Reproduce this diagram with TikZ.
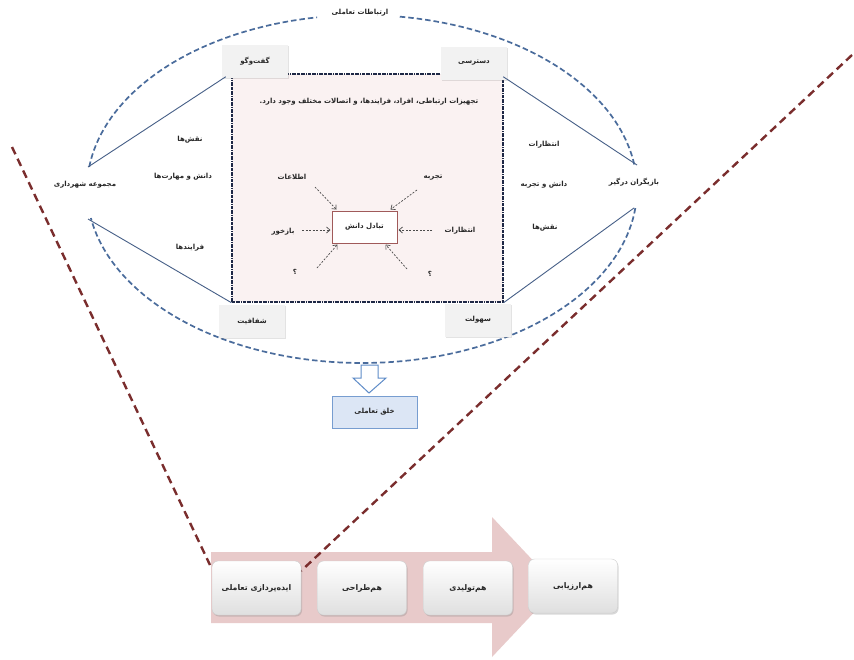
\documentclass[tikz,border=0pt]{standalone}
\usepackage{fontspec}
\newfontfamily\arabicfont[Script=Arabic]{DejaVu Sans}
\TeXXeTstate=1
\usetikzlibrary{arrows.meta,shadows,calc}
\definecolor{ellblue}{RGB}{74,108,156}
\definecolor{lineblue}{RGB}{70,95,135}
\definecolor{navyb}{RGB}{30,40,70}
\definecolor{innerfill}{RGB}{250,242,242}
\definecolor{boxgrey}{RGB}{242,242,242}
\definecolor{brownred}{RGB}{122,45,45}
\definecolor{arrowpink}{RGB}{232,202,202}
\definecolor{centerborder}{RGB}{160,90,90}
\definecolor{hollowblue}{RGB}{95,140,200}
\definecolor{createfill}{RGB}{220,230,245}
\newcommand{\prs}[1]{\beginR #1\endR}
\begin{document}
\begin{tikzpicture}[x=1pt,y=-1pt,
  txt/.style={font=\arabicfont\bfseries\fontsize{7}{9}\selectfont, text=black!85, inner sep=1pt},
  cornerbox/.style={txt, fill=boxgrey, minimum width=66pt, minimum height=33pt,
     drop shadow={opacity=0.22,shadow xshift=1pt,shadow yshift=-1pt}},
  ellline/.style={ellblue, line width=1.7pt, dash pattern=on 5.5pt off 3pt},
  solidline/.style={lineblue, line width=0.9pt},
  dasharrow/.style={gray!60!black, line width=0.7pt, dash pattern=on 2pt off 1.5pt, -{Straight Barb[length=3.5pt,width=6pt]}},
  brownline/.style={brownred, line width=2.4pt, dash pattern=on 8pt off 5pt},
  stagebox/.style={txt, font=\arabicfont\bfseries\fontsize{7.8}{10}\selectfont, rounded corners=6pt, top color=white, bottom color=gray!25,
     draw=gray!40, minimum width=89pt, minimum height=54pt,
     drop shadow={opacity=0.3,shadow xshift=1pt,shadow yshift=-1.5pt}}
]
\useasboundingbox (0,0) rectangle (854,659);
\fill[white] (0,0) rectangle (854,659);

% big process arrow
\fill[arrowpink] (211,552) -- (492,552) -- (492,517) -- (558,587) -- (492,657) -- (492,623) -- (211,623) -- cycle;

% ellipse in arcs
\draw[ellline] plot[domain=6.3:170.4, samples=90] ({362+275*cos(\x)},{189+174*sin(\x)});
\draw[ellline] plot[domain=187.3:260.6, samples=40] ({362+275*cos(\x)},{189+174*sin(\x)});
\draw[ellline] plot[domain=277.9:352.1, samples=40] ({362+275*cos(\x)},{189+174*sin(\x)});

\coordinate (L1) at (88,167);
\coordinate (L2) at (88,219);
\coordinate (R1) at (637,165);
\coordinate (R2) at (634,208);

% inner dotted rectangle
\node[draw=navyb, line width=1.3pt, dash pattern=on 3pt off 0.8pt on 0.8pt off 0.8pt, fill=innerfill,
      minimum width=271pt, minimum height=228pt, inner sep=0pt] (inner) at (367.5,188) {};

% corner boxes
\node[cornerbox] (gof) at (255,61) {\prs{گفت‌وگو}};
\node[cornerbox] (dast) at (474,63) {\prs{دسترسی}};
\node[cornerbox] (shaf) at (252,321) {\prs{شفافیت}};
\node[cornerbox] (sohu) at (478,320) {\prs{سهولت}};

% solid lines
\draw[solidline] (L1) -- ([shift={(4,-1)}]gof.south west);
\draw[solidline] (L2) -- (inner.south west);
\draw[solidline] (R1) -- ([shift={(-4,-3)}]dast.south east);
\draw[solidline] (R2) -- (inner.south east);

% labels round the ellipse
\node[txt] (top) at (360,13) {\prs{ارتباطات تعاملی}};
\node[txt] (majmu) at (85,185) {\prs{مجموعه شهرداری}};
\node[txt] (bazig) at (634,182) {\prs{بازیگران درگیر}};
\node[txt] (lnaqsh) at (190,140) {\prs{نقش‌ها}};
\node[txt] (ldanesh) at (183,177) {\prs{دانش و مهارت‌ها}};
\node[txt] (lfar) at (190,248) {\prs{فرایندها}};
\node[txt] (rentez) at (544,145) {\prs{انتظارات}};
\node[txt] (rdanesh) at (544,185) {\prs{دانش و تجربه}};
\node[txt] (rnaqsh) at (545,228) {\prs{نقش‌ها}};

% inside rectangle
\node[txt] (head) at (369,102) {\prs{تجهیزات ارتباطی، افراد، فرایندها، و اتصالات مختلف وجود دارد.}};
\node[txt, draw=centerborder, line width=1pt, fill=white, minimum width=65pt, minimum height=32pt] (tabadol) at (364.5,227) {\prs{تبادل دانش}};

\node[txt] (etel) at (292,177) {\prs{اطلاعات}};
\node[txt] (tajr) at (433,178) {\prs{تجربه}};
\node[txt] (bazk) at (283,232) {\prs{بازخور}};
\node[txt] (entz) at (460,231) {\prs{انتظارات}};
\node[txt] (q1) at (295,272) {\prs{؟}};
\node[txt] (q2) at (430,274) {\prs{؟}};

\coordinate (s1) at (315,187);
\coordinate (s2) at (417,190);
\coordinate (s3) at (302,230);
\coordinate (s4) at (432,230);
\coordinate (s5) at (317,268);
\coordinate (s6) at (407,269);
\draw[dasharrow] (s1) -- ([shift={(5,-1)}]tabadol.north west);
\draw[dasharrow] (s2) -- ([shift={(-7,-1)}]tabadol.north east);
\draw[dasharrow] (s3) -- ([shift={(-1,3)}]tabadol.west);
\draw[dasharrow] (s4) -- ([shift={(1,3)}]tabadol.east);
\draw[dasharrow] (s5) -- ([shift={(6,1)}]tabadol.south west);
\draw[dasharrow] (s6) -- ([shift={(-12,1)}]tabadol.south east);

% hollow arrow and result box
\draw[hollowblue, line width=1pt, fill=white] (361,365) -- (378,365) -- (378,378) -- (386,378) -- (369,393) -- (353,378) -- (361,378) -- cycle;
\node[txt, fill=createfill, draw=hollowblue!85, line width=1pt, minimum width=85pt, minimum height=32pt] (khalq) at (374.5,412) {\prs{خلق تعاملی}};

% brown dashed lines
\coordinate (bl1) at (12,147);
\coordinate (bl2) at (210,565);
\coordinate (br1) at (852,55);
\coordinate (br2) at (301,571);
\draw[brownline] (bl1) -- (bl2);
\draw[brownline] (br1) -- (br2);

% stage boxes
\node[stagebox] (b1) at (256.5,588) {\prs{ایده‌پردازی تعاملی}};
\node[stagebox] (b2) at (362,588) {\prs{هم‌طراحی}};
\node[stagebox] (b3) at (468,588) {\prs{هم‌تولیدی}};
\node[stagebox] (b4) at (573,586) {\prs{هم‌ارزیابی}};
\end{tikzpicture}
\end{document}
